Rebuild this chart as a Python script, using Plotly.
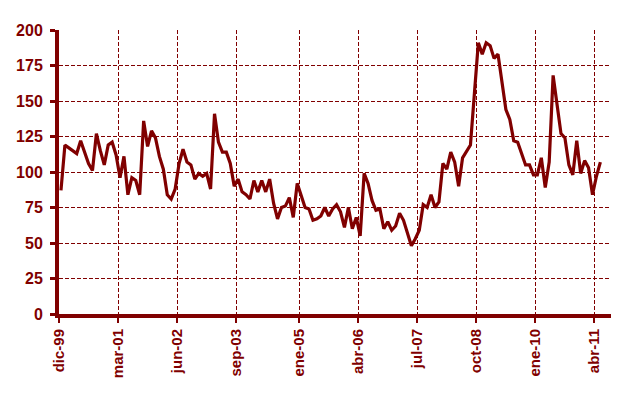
import plotly.graph_objects as go

# Monthly series, dic-99 .. may-11 (138 months)
values = [
    87, 119, 117, 115, 113, 122, 114, 106, 101, 127, 115, 105, 119, 121, 112, 96, 111, 84, 96, 94,
    84, 136, 118, 129, 124, 111, 102, 84, 81, 88, 106, 116, 107, 105, 95, 99, 97, 99, 88, 141,
    121, 114, 114, 106, 90, 95, 86, 84, 81, 94, 86, 94, 86, 95, 78, 67, 75, 76, 82, 68,
    92, 83, 75, 74, 66, 67, 69, 75, 69, 74, 77, 72, 61, 75, 60, 68, 55, 99, 92, 80,
    73, 74, 60, 65, 59, 62, 71, 66, 57, 48, 53, 59, 77, 75, 84, 75, 79, 106, 102, 114,
    107, 90, 110, 114, 119, 155, 191, 183, 191, 189, 180, 183, 165, 144, 137, 122, 121, 113, 105, 105,
    98, 98, 110, 89, 107, 168, 147, 127, 124, 105, 98, 122, 99, 108, 103, 84, 97, 107,
]
# month position (mid-month) since dic-99
months = [i + 0.5 for i in range(len(values))]

tick_pos = [0, 15, 30, 45, 61, 76, 91, 106, 121, 136]
tick_labels = ["dic-99", "mar-01", "jun-02", "sep-03", "ene-05",
               "abr-06", "jul-07", "oct-08", "ene-10", "abr-11"]
y_ticks = [0, 25, 50, 75, 100, 125, 150, 175, 200]

MAROON = "#800000"
FONT = "Liberation Sans, Arial, sans-serif"

fig = go.Figure()
fig.add_trace(go.Scatter(
    x=months, y=values, mode="lines",
    line=dict(color=MAROON, width=3.2),
    hoverinfo="skip", showlegend=False,
))

# page body has an 8px margin, so the figure is sized to fit the 639x393 window
fig.update_layout(
    width=631, height=385,
    margin=dict(l=51, r=28, t=22, b=79),
    paper_bgcolor="white", plot_bgcolor="white",
    font=dict(family=FONT, color=MAROON),
)
fig.update_xaxes(
    range=[0, 140.2], automargin=False,
    tickmode="array", tickvals=tick_pos, ticktext=tick_labels,
    tickangle=-90,
    tickfont=dict(family=FONT, size=15, color=MAROON, weight="bold"),
    showgrid=True, gridcolor=MAROON, gridwidth=1, griddash="4px,2px",
    showline=True, linecolor=MAROON, linewidth=4,
    ticks="outside", ticklen=5, tickwidth=2, tickcolor=MAROON,
    zeroline=False,
)
fig.update_yaxes(
    range=[0, 200], automargin=False,
    tickmode="array", tickvals=y_ticks,
    tickfont=dict(family=FONT, size=16, color=MAROON, weight="bold"),
    showgrid=True, gridcolor=MAROON, gridwidth=1, griddash="4px,2px",
    showline=True, linecolor=MAROON, linewidth=4,
    ticks="outside", ticklen=5, tickwidth=3, tickcolor=MAROON,
    ticklabelstandoff=4,
    zeroline=False,
)

fig.write_html("out.html")
